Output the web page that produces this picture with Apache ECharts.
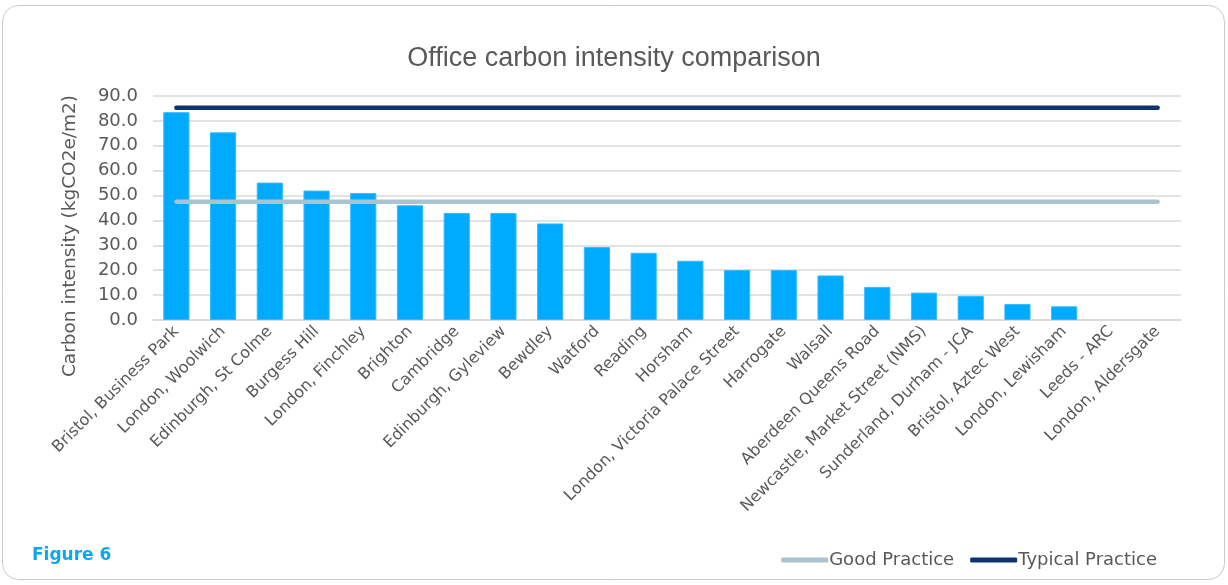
<!DOCTYPE html>
<html>
<head>
<meta charset="utf-8">
<script src="https://cdn.jsdelivr.net/npm/echarts@6/dist/echarts.min.js"></script>
<style>
    html, body { margin: 0; padding: 0; background: #fff; }
    #chart { width: 1228px; height: 585px; }
</style>
</head>
<body>
<div id="chart"></div>
<script>
//站点名称
var sites = ['Bristol, Business Park', 'London, Woolwich', 'Edinburgh, St Colme', 'Burgess Hill', 'London, Finchley',
    'Brighton', 'Cambridge', 'Edinburgh, Gyleview', 'Bewdley', 'Watford', 'Reading', 'Horsham',
    'London, Victoria Palace Street', 'Harrogate', 'Walsall', 'Aberdeen Queens Road',
    'Newcastle, Market Street (NMS)', 'Sunderland, Durham - JCA', 'Bristol, Aztec West',
    'London, Lewisham', 'Leeds - ARC', 'London, Aldersgate'];

//碳强度
var intensity = [83.5, 75.4, 55.2, 52.0, 51.0, 46.1, 43.0, 43.0, 38.8, 29.3, 27.0, 23.8,
    20.1, 20.1, 17.9, 13.3, 11.0, 9.7, 6.4, 5.5, null, null];

//基准线
var goodPractice = 47.5;
var typicalPractice = 85.3;

function fill(v) {
    var arr = [];
    for (var i = 0; i < sites.length; i++) arr.push(v);
    return arr;
}

var textColor = '#595959';
var font = 'DejaVu Sans';

var option = {
    animation: false,
    title: {
        text: 'Office carbon intensity comparison',
        left: 'center',
        top: 40,
        textStyle: {
            fontFamily: 'Liberation Sans',
            fontWeight: 'normal',
            fontSize: 27,
            color: textColor
        }
    },
    graphic: [
        {
            type: 'rect',
            shape: {x: 2.5, y: 5.5, width: 1222, height: 574, r: 16},
            style: {fill: 'none', stroke: '#c8c8c8', lineWidth: 1},
            z: -1
        },
        {
            type: 'text',
            left: 32,
            top: 547,
            style: {
                text: 'Figure 6',
                fill: '#0AA8EE',
                font: 'bold 17px "DejaVu Sans"'
            }
        },
        {
            //纵轴标题
            type: 'text',
            x: 70,
            y: 236,
            rotation: Math.PI / 2,
            style: {
                text: 'Carbon intensity (kgCO2e/m2)',
                fill: textColor,
                font: '18.5px "DejaVu Sans"',
                align: 'center',
                verticalAlign: 'middle'
            }
        }
    ],
    legend: {
        right: 66,
        top: 546,
        itemWidth: 47,
        itemHeight: 5,
        itemGap: 16,
        icon: 'roundRect',
        textStyle: {
            fontFamily: font,
            fontSize: 18,
            color: textColor,
            padding: [0, 0, 0, -4]
        },
        data: ['Good Practice', 'Typical Practice']
    },
    grid: {
        left: 153,
        right: 47,
        top: 96,
        bottom: 265
    },
    xAxis: {
        type: 'category',
        data: sites,
        axisTick: {show: false},
        axisLine: {lineStyle: {color: '#d9d9d9', width: 1.5}},
        axisLabel: {
            interval: 0,
            rotate: 45,
            color: textColor,
            fontFamily: font,
            fontSize: 16,
            margin: 9
        }
    },
    yAxis: {
        type: 'value',
        min: 0,
        max: 90,
        interval: 10,
        axisLabel: {
            color: textColor,
            fontFamily: font,
            fontSize: 18,
            margin: 15,
            formatter: function (v) { return v.toFixed(1); }
        },
        splitLine: {lineStyle: {color: '#d9d9d9', width: 1.5}}
    },
    series: [
        {
            name: 'Carbon intensity',
            type: 'bar',
            data: intensity,
            barWidth: '56%',
            itemStyle: {color: '#00AAFF', borderColor: '#33BBFF', borderWidth: 1}
        },
        {
            name: 'Good Practice',
            type: 'line',
            data: fill(goodPractice),
            symbol: 'none',
            lineStyle: {color: '#A9C4CF', width: 4.5, cap: 'round'},
            itemStyle: {color: '#A9C4CF'},
            z: 3
        },
        {
            name: 'Typical Practice',
            type: 'line',
            data: fill(typicalPractice),
            symbol: 'none',
            lineStyle: {color: '#0E3470', width: 4.5, cap: 'round'},
            itemStyle: {color: '#0E3470'},
            z: 3
        }
    ]
};

var myChart = echarts.init(document.getElementById('chart'));
myChart.setOption(option);
</script>
</body>
</html>
